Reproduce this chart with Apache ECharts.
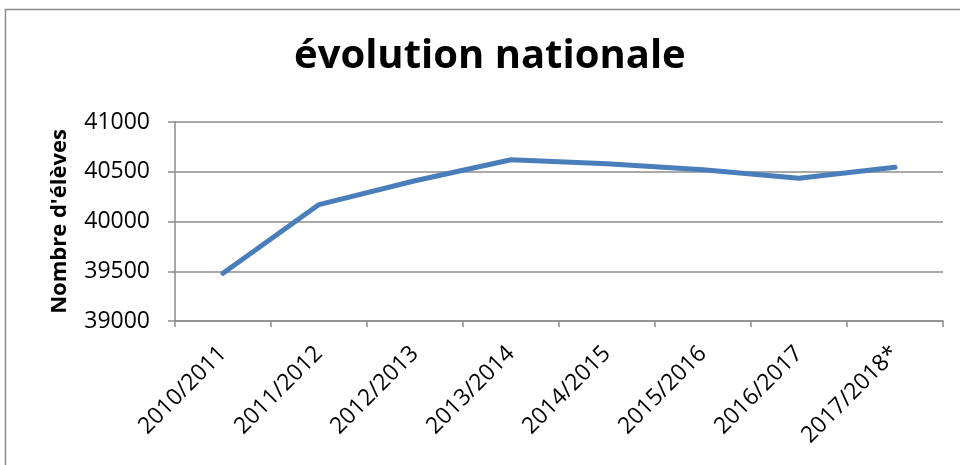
<!DOCTYPE html>
<html><head><meta charset="utf-8">
<script src="https://cdn.jsdelivr.net/npm/echarts@6/dist/echarts.min.js"></script>
<style>html,body{margin:0;padding:0;background:#fff}#c{width:960px;height:465px}</style>
</head><body><div id="c"></div>
<script>
const categories = ['2010/2011','2011/2012','2012/2013','2013/2014','2014/2015','2015/2016','2016/2017','2017/2018*'];
const eleves = [39480, 40170, 40410, 40620, 40580, 40520, 40435, 40545];
const yTicks = [39000, 39500, 40000, 40500, 41000];
const font = '"Open Sans", "Noto Sans", sans-serif';
const chart = echarts.init(document.getElementById('c'));
chart.setOption({
  animation: false,
  backgroundColor: '#fff',
  graphic: [{type:'rect', shape:{x:5.5,y:9.5,width:970,height:470}, style:{fill:'none', stroke:'#8c8c8c', lineWidth:1.5}, silent:true}],
  title: {text: 'évolution nationale', left: 289, top: 32,
    textStyle: {fontFamily: font, fontWeight: 'bold', fontSize: 40, color: '#000'}},
  grid: {left: 175, right: 17, top: 122, bottom: 144},
  xAxis: {type: 'category', data: categories, boundaryGap: true,
    axisLine: {lineStyle: {color: '#8c8c8c', width: 1.5}},
    axisTick: {show: true, length: 6, lineStyle: {color: '#8c8c8c', width: 1.5}},
    axisLabel: {rotate: 45, fontFamily: font, fontSize: 23, color: '#000', margin: 29, interval: 0}},
  yAxis: {type: 'value', min: yTicks[0], max: yTicks[yTicks.length-1], interval: 500,
    name: "Nombre d'élèves", nameLocation: 'middle', nameGap: 104,
    nameTextStyle: {fontFamily: font, fontWeight: 'bold', fontSize: 22, color: '#000'},
    axisLine: {show: true, lineStyle: {color: '#8c8c8c', width: 1.5}},
    axisTick: {show: true, length: 7, inside: false, lineStyle: {color: '#8c8c8c', width: 1.5}},
    splitLine: {lineStyle: {color: '#8c8c8c', width: 1.5}},
    axisLabel: {fontFamily: font, fontSize: 23, color: '#000', margin: 25, formatter: v => String(v)}},
  series: [{type: 'line', data: eleves, showSymbol: false, symbol: 'none',
    lineStyle: {color: '#4a7ebb', width: 5, cap: 'round', join: 'round'}}]
});
</script></body></html>
